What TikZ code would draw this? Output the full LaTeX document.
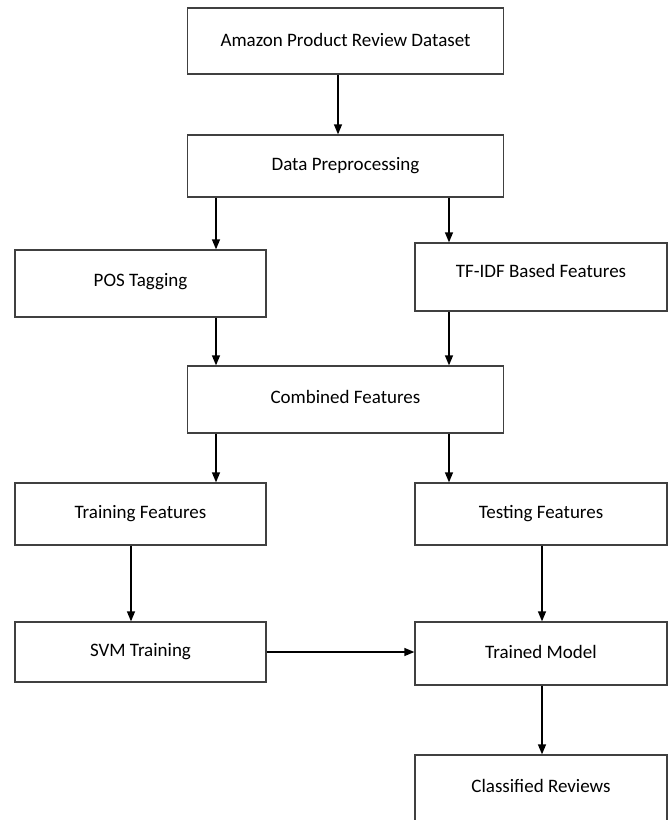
\documentclass[tikz,border=0pt]{standalone}
\usepackage{fontspec}
\setmainfont{Carlito}
\usetikzlibrary{arrows.meta}
\newcommand{\up}[2]{\raisebox{#1pt}{#2}}
\begin{document}
\begin{tikzpicture}[x=1pt,y=-1pt,
  box/.style={draw=black!75, line width=1.3pt, fill=white, inner sep=0pt, font=\fontsize{19}{22}\selectfont},
  arr/.style={-{Triangle[length=10pt,width=8pt]}, line width=1.3pt}]
\useasboundingbox (0,0) rectangle (669,820);
\node[box, minimum width=316pt, minimum height=66pt] (a) at (345.5,41) {\up{2}{Amazon Product Review Dataset}};
\node[box, minimum width=316pt, minimum height=62pt] (dp) at (345.5,166) {\up{-3}{Data Preprocessing}};
\node[box, minimum width=251pt, minimum height=67pt] (pos) at (140.5,283.5) {\up{8}{POS Tagging}};
\node[box, minimum width=252pt, minimum height=68pt] (tf) at (541,277) {\up{12}{TF-IDF Based Features}};
\node[box, minimum width=316pt, minimum height=67pt] (cf) at (345.5,399.5) {\up{5}{Combined Features}};
\node[box, minimum width=251pt, minimum height=62pt] (trf) at (140.5,514) {\up{2}{Training Features}};
\node[box, minimum width=252pt, minimum height=62pt] (tef) at (541,514) {\up{2}{Testing Features}};
\node[box, minimum width=251pt, minimum height=60pt] (svm) at (140.5,652) {\up{-5}{SVM Training}};
\node[box, minimum width=252pt, minimum height=63pt] (tm) at (541,653.5) {\up{2.5}{Trained Model}};
\node[box, minimum width=252pt, minimum height=100pt] (cr) at (541,805) {\up{38}{Classified Reviews}};
\coordinate (xa) at (338,0);
\coordinate (xl) at (216,0);
\coordinate (xr) at (449,0);
\coordinate (xsl) at (131,0);
\coordinate (xsr) at (542,0);
\draw[arr] (a.south -| xa) -- (dp.north -| xa);
\draw[arr] (dp.south -| xl) -- (pos.north -| xl);
\draw[arr] (dp.south -| xr) -- (tf.north -| xr);
\draw[arr] (pos.south -| xl) -- (cf.north -| xl);
\draw[arr] (tf.south -| xr) -- (cf.north -| xr);
\draw[arr] (cf.south -| xl) -- (trf.north -| xl);
\draw[arr] (cf.south -| xr) -- (tef.north -| xr);
\draw[arr] (trf.south -| xsl) -- (svm.north -| xsl);
\draw[arr] (tef.south -| xsr) -- (tm.north -| xsr);
\draw[arr] (svm.east) -- (tm.west |- svm.east);
\draw[arr] (tm.south -| xsr) -- (cr.north -| xsr);
\end{tikzpicture}
\end{document}
